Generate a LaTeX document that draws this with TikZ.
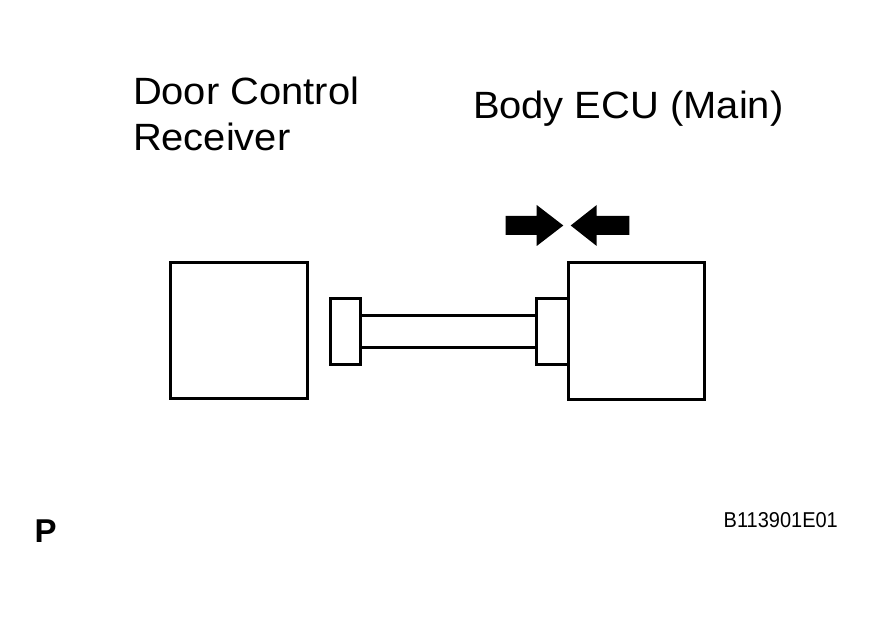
\documentclass[tikz,border=0pt]{standalone}
\usepackage{fontspec}
\setmainfont{Liberation Sans}
\newfontfamily\labfont[FakeStretch=1.05]{Liberation Sans}
\newfontfamily\codefont[FakeStretch=0.93]{Liberation Sans}
\begin{document}
\begin{tikzpicture}[x=1pt,y=-1pt,
  unitbox/.style={draw=black,line width=3pt,rectangle,inner sep=0pt,outer sep=0pt,fill=white},
  lbl/.style={inner sep=0pt,outer sep=0pt,anchor=base west,font=\labfont\fontsize{38}{48}\selectfont},
  pushfill/.style={fill=black,draw=none}]
\useasboundingbox (0,0) rectangle (877,617);
\fill[white] (0,0) rectangle (877,617);
% units
\node[unitbox,minimum width=136.3pt,minimum height=136pt] (recv) at (238.85,330.7) {};
\node[unitbox,minimum width=136pt,minimum height=136.3pt] (ecu) at (636,330.85) {};
% connectors
\node[unitbox,minimum width=29.3pt,minimum height=65.6pt] (lc) at (345.35,331.5) {};
\node[unitbox,minimum width=31.3pt,minimum height=65.6pt] (rc) at (552.35,331.5) {};
% harness
\draw[line width=3pt] ([yshift=16pt]lc.east) -- ([yshift=16pt]rc.west);
\draw[line width=3pt] ([yshift=-16pt]lc.east) -- ([yshift=-16pt]rc.west);
% push arrows
\coordinate (tipL) at (563.3,225.5);
\coordinate (tipR) at (570.7,225.5);
\fill[pushfill] (505.7,216) -- (536.7,216) -- (536.7,205) -- (tipL) -- (536.7,246) -- (536.7,235) -- (505.7,235) -- cycle;
\fill[pushfill] (629.3,216) -- (596.7,216) -- (596.7,205) -- (tipR) -- (596.7,246) -- (596.7,235) -- (629.3,235) -- cycle;
% labels
\node[lbl] (t1) at (133,104.3) {Door Control};
\node[lbl] (t2) at (133,151) {Receiver};
\node[lbl] (t3) at (473,118.3) {Body ECU (Main)};
\node[inner sep=0pt,anchor=base west,font=\bfseries\fontsize{33}{40}\selectfont] (p) at (34.5,542.7) {P};
\node[inner sep=0pt,anchor=base west,font=\codefont\fontsize{21.5}{26}\selectfont] (code) at (723.5,527.7) {B113901E01};
\end{tikzpicture}
\end{document}
